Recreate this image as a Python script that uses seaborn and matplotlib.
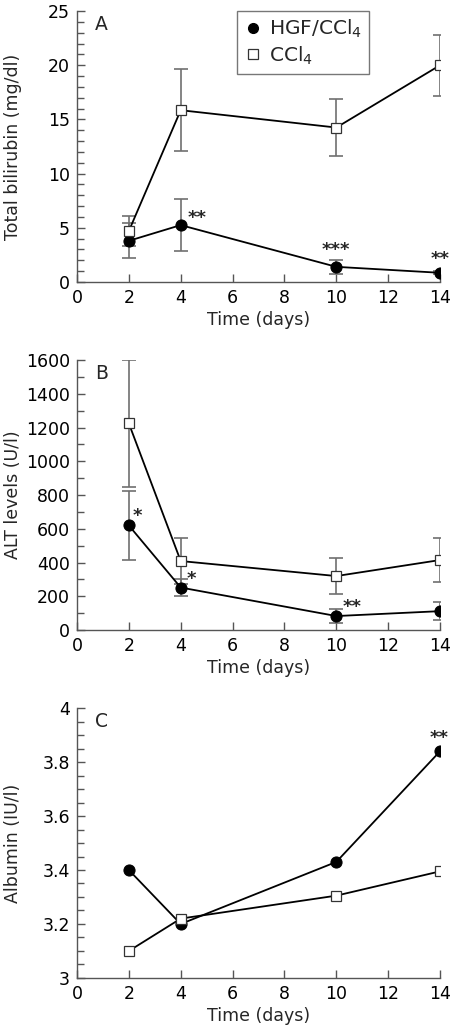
import numpy as np
import matplotlib
matplotlib.use("Agg")
import matplotlib.pyplot as plt
import seaborn as sns
import pandas as pd

days = [2, 4, 10, 14]

# panel A - total bilirubin (mg/dl)
bili_hgf = [3.8, 5.25, 1.4, 0.85]
bili_hgf_err = [1.6, 2.4, 0.65, 0.15]
bili_ccl4 = [4.7, 15.85, 14.25, 20.0]
bili_ccl4_err = [1.4, 3.8, 2.65, 2.8]
bili_stars = ["", "**", "***", "**"]

# panel B - ALT levels (U/l)
alt_hgf = [620, 252, 83, 112]
alt_hgf_err = [205, 50, 40, 55]
alt_ccl4 = [1225, 409, 320, 415]
alt_ccl4_err = [375, 134, 108, 128]
alt_stars = ["*", "*", "**", ""]

# panel C - albumin (IU/l)
alb_hgf = [3.40, 3.20, 3.43, 3.84]
alb_ccl4 = [3.10, 3.22, 3.305, 3.395]
alb_stars = ["", "", "", "**"]

sns.set_style("ticks")
plt.rcParams["font.family"] = ["DejaVu Sans"]
plt.rcParams["axes.edgecolor"] = "#555555"
plt.rcParams["xtick.color"] = "#555555"
plt.rcParams["ytick.color"] = "#555555"
plt.rcParams["xtick.labelcolor"] = "black"
plt.rcParams["ytick.labelcolor"] = "black"

FS = 12.5
fig = plt.figure(figsize=(4.5, 10.3), dpi=100)
left, width = 0.171, 0.807
axA = fig.add_axes([left, 0.7262, width, 0.2631])
axB = fig.add_axes([left, 0.3883, width, 0.2621])
axC = fig.add_axes([left, 0.0505, width, 0.2621])


def draw(ax, hgf, ccl4, hgf_err, ccl4_err, stars, star_dx, star_dy, ylim,
         major, minor, ylabel, letter, fmt):
    df = pd.DataFrame({
        "day": days * 2,
        "value": list(hgf) + list(ccl4),
        "group": ["HGF/CCl$_4$"] * 4 + ["CCl$_4$"] * 4,
    })
    if hgf_err is not None:
        ax.errorbar(days, ccl4, yerr=ccl4_err, fmt="none", ecolor="#707070",
                    elinewidth=1.2, capsize=5, capthick=1.2, zorder=1)
        ax.errorbar(days, hgf, yerr=hgf_err, fmt="none", ecolor="#707070",
                    elinewidth=1.2, capsize=5, capthick=1.2, zorder=1)
    sns.lineplot(data=df, x="day", y="value", hue="group", style="group",
                 palette={"HGF/CCl$_4$": "black", "CCl$_4$": "black"},
                 markers={"HGF/CCl$_4$": "o", "CCl$_4$": "s"},
                 dashes=False, ax=ax, legend=False, linewidth=1.3, zorder=3)
    for line in ax.get_lines():
        if line.get_marker() == "s":
            line.set_markerfacecolor("white")
            line.set_markeredgecolor("#333333")
            line.set_markersize(7.5)
            line.set_markeredgewidth(0.9)
        elif line.get_marker() == "o":
            line.set_markerfacecolor("black")
            line.set_markeredgecolor("black")
            line.set_markersize(8)
    for d, v, s, dx, dy in zip(days, hgf, stars, star_dx, star_dy):
        if s:
            ax.text(d + dx, v + dy, s, ha="center", va="baseline",
                    fontsize=13, fontweight="bold")
    ax.set_xlim(0, 14)
    ax.set_ylim(*ylim)
    ax.set_xticks(range(0, 15, 2))
    ax.set_yticks(np.arange(ylim[0], ylim[1] + major / 2, major))
    ax.set_yticks(np.arange(ylim[0], ylim[1] + minor / 2, minor), minor=True)
    ax.yaxis.set_major_formatter(matplotlib.ticker.FuncFormatter(fmt))
    ax.tick_params(axis="both", which="major", direction="in", length=6,
                   width=1, labelsize=FS, pad=5)
    ax.tick_params(axis="y", which="minor", direction="in", length=5, width=1)
    ax.set_xlabel("Time (days)", fontsize=FS, labelpad=3)
    ax.set_ylabel(ylabel, fontsize=FS)
    ax.yaxis.set_label_coords(-0.152, 0.5)
    for sp in ["top", "right"]:
        ax.spines[sp].set_visible(False)
    for sp in ["left", "bottom"]:
        ax.spines[sp].set_linewidth(1)
    ax.text(0.05, 0.985, letter, transform=ax.transAxes, ha="left", va="top",
            fontsize=FS + 1)


draw(axA, bili_hgf, bili_ccl4, bili_hgf_err, bili_ccl4_err, bili_stars,
     [0, 0.63, 0, 0], [0, 0.2, 1.05, 0.85],
     (0, 25), 5, 1, "Total bilirubin (mg/dl)", "A", lambda v, p: f"{v:.0f}")
draw(axB, alt_hgf, alt_ccl4, alt_hgf_err, alt_ccl4_err, alt_stars,
     [0.31, 0.42, 0.6, 0], [25, 20, 22, 0],
     (0, 1600), 200, 100, "ALT levels (U/l)", "B", lambda v, p: f"{v:.0f}")
draw(axC, alb_hgf, alb_ccl4, None, None, alb_stars,
     [0, 0, 0, -0.04], [0, 0, 0, 0.032],
     (3, 4), 0.2, 0.05, "Albumin (IU/l)", "C", lambda v, p: f"{v:g}")

handles = [
    plt.Line2D([], [], marker="o", color="black", linestyle="none",
               markersize=7),
    plt.Line2D([], [], marker="s", markerfacecolor="white",
               markeredgecolor="#333333", linestyle="none", markersize=6.5,
               markeredgewidth=0.9),
]
leg = axA.legend(handles, ["HGF/CCl$_4$", "CCl$_4$"], loc="upper left",
                 bbox_to_anchor=(0.442, 1.0), fontsize=14.5, frameon=True,
                 fancybox=False, handlelength=0.8, handletextpad=0.4,
                 borderpad=0.35, labelspacing=0.2, borderaxespad=0)
leg.get_frame().set_edgecolor("#555555")
leg.get_frame().set_linewidth(1)

fig.savefig("out.png", dpi=100)
